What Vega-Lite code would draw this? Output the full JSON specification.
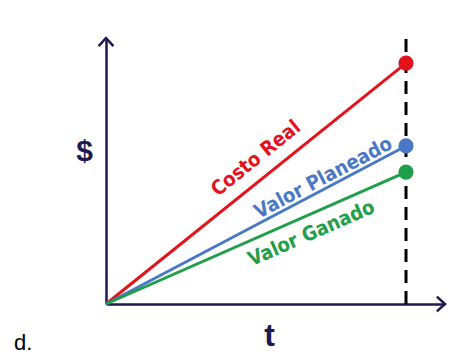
{
  "$schema": "https://vega.github.io/schema/vega-lite/v6.json",
  "width": 339,
  "height": 266,
  "autosize": "none",
  "padding": {"left": 106, "top": 38, "right": 30, "bottom": 55},
  "background": "#ffffff",
  "config": {"view": {"stroke": null}},
  "title": {"text": "d.", "orient": "bottom", "anchor": "start", "frame": "group", "dx": -92, "offset": 0, "dy": -18, "fontSize": 22, "font": "Liberation Sans", "fontWeight": "normal", "color": "#000000"},
  "datasets": {
    "lines": [
      {"serie": "Costo Real", "t": 0, "v": 0},
      {"serie": "Costo Real", "t": 10, "v": 8.03},
      {"serie": "Valor Planeado", "t": 0, "v": 0},
      {"serie": "Valor Planeado", "t": 10, "v": 5.27},
      {"serie": "Valor Ganado", "t": 0, "v": 0},
      {"serie": "Valor Ganado", "t": 10, "v": 4.4}
    ],
    "labels": [
      {"serie": "Costo Real", "t": 5.0, "v": 4.85},
      {"serie": "Valor Planeado", "t": 7.25, "v": 4.2},
      {"serie": "Valor Ganado", "t": 6.85, "v": 2.35}
    ],
    "corte": [{"t": 10, "v0": 0, "v1": 8.97}],
    "ejes": [
      {"eje": "y", "t": 0, "v": 8.87},
      {"eje": "x", "t": 11.3, "v": 0}
    ]
  },
  "encoding": {
    "x": {"field": "t", "type": "quantitative", "scale": {"domain": [0, 11.3], "nice": false, "zero": false}},
    "y": {"field": "v", "type": "quantitative", "scale": {"domain": [0, 8.87], "nice": false, "zero": false}}
  },
  "layer": [
    {
      "data": {"name": "corte"},
      "mark": {"type": "rule", "color": "#000000", "strokeWidth": 3, "strokeDash": [13, 8], "clip": false},
      "encoding": {
        "x": {"field": "t", "type": "quantitative", "axis": {"orient": "bottom", "domain": true, "domainColor": "#1c1a4f", "domainWidth": 2.5, "ticks": false, "labels": false, "grid": false, "title": "t", "titleFont": "Liberation Sans", "titleFontSize": 32, "titleFontWeight": "bold", "titleColor": "#1c1a4f", "titleAngle": 0, "titleX": 163, "titleY": 31, "titleAlign": "center", "titleBaseline": "middle"}},
        "y": {"field": "v0", "type": "quantitative", "axis": {"orient": "left", "domain": true, "domainColor": "#1c1a4f", "domainWidth": 2.5, "ticks": false, "labels": false, "grid": false, "title": "$", "titleFont": "Liberation Sans", "titleFontSize": 30, "titleFontWeight": "bold", "titleColor": "#1c1a4f", "titleAngle": 0, "titleX": -22, "titleY": 113, "titleAlign": "center", "titleBaseline": "middle"}},
        "y2": {"field": "v1"}
      }
    },
    {
      "data": {"name": "ejes"},
      "transform": [{"filter": "datum.eje === 'y'"}],
      "mark": {"type": "point", "shape": "M-1,1.1L0,0L1,1.1", "filled": false, "stroke": "#1c1a4f", "strokeWidth": 2.5, "size": 220, "opacity": 1, "clip": false}
    },
    {
      "data": {"name": "ejes"},
      "transform": [{"filter": "datum.eje === 'x'"}],
      "mark": {"type": "point", "shape": "M-1.1,-1L0,0L-1.1,1", "filled": false, "stroke": "#1c1a4f", "strokeWidth": 2.5, "size": 220, "opacity": 1, "clip": false}
    },
    {
      "data": {"name": "lines"},
      "mark": {"type": "line", "strokeWidth": 3},
      "encoding": {
        "color": {"field": "serie", "type": "nominal", "legend": null, "scale": {"domain": ["Costo Real", "Valor Planeado", "Valor Ganado"], "range": ["#e3121c", "#4a78c6", "#1f9f4a"]}},
        "order": {"field": "t"}
      }
    },
    {
      "data": {"name": "lines"},
      "transform": [{"filter": "datum.t === 10"}],
      "mark": {"type": "point", "filled": true, "size": 230, "opacity": 1},
      "encoding": {
        "color": {"field": "serie", "type": "nominal", "legend": null}
      }
    },
    {
      "data": {"name": "labels"},
      "transform": [{"filter": "datum.serie === 'Costo Real'"}],
      "mark": {"type": "text", "angle": -38.8, "font": "DejaVu Sans Condensed, sans-serif", "fontWeight": "bold", "fontSize": 20, "align": "center", "baseline": "middle"},
      "encoding": {"text": {"field": "serie"}, "color": {"field": "serie", "type": "nominal", "legend": null}}
    },
    {
      "data": {"name": "labels"},
      "transform": [{"filter": "datum.serie === 'Valor Planeado'"}],
      "mark": {"type": "text", "angle": -27.8, "font": "DejaVu Sans Condensed, sans-serif", "fontWeight": "bold", "fontSize": 20, "align": "center", "baseline": "middle"},
      "encoding": {"text": {"field": "serie"}, "color": {"field": "serie", "type": "nominal", "legend": null}}
    },
    {
      "data": {"name": "labels"},
      "transform": [{"filter": "datum.serie === 'Valor Ganado'"}],
      "mark": {"type": "text", "angle": -23.7, "font": "DejaVu Sans Condensed, sans-serif", "fontWeight": "bold", "fontSize": 20, "align": "center", "baseline": "middle"},
      "encoding": {"text": {"field": "serie"}, "color": {"field": "serie", "type": "nominal", "legend": null}}
    }
  ]
}
